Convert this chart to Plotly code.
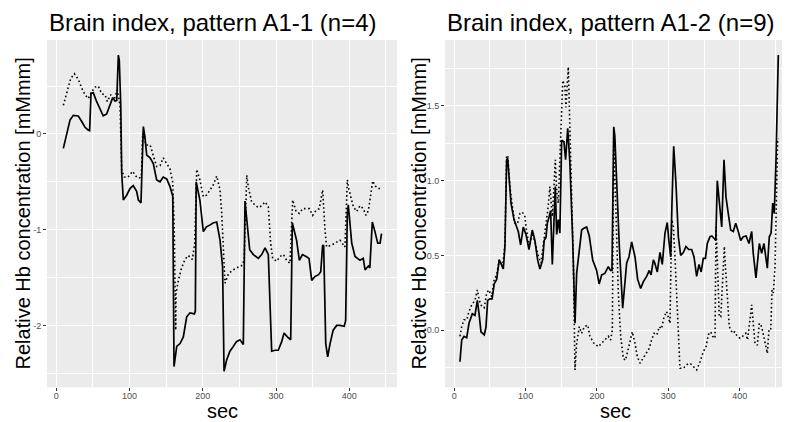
import plotly.graph_objects as go

W, H = 790, 422

# ---------------- data ----------------
left_t_solid = [9.6, 14, 18.7, 23.2, 30, 34.7, 39.2, 43, 45.5, 47.4, 50.5, 55, 59.7, 64, 68.8, 73.3, 77, 80, 82.5,
                84.7, 86, 88, 89.3, 91.5, 96, 100.6, 105, 109.7, 112, 115.6, 118.8, 121, 123.4, 128, 132.4, 137,
                141.6, 146, 150.7, 155.2, 159, 160.7, 164.4, 168.9, 173.4, 178, 182.5, 188.5, 189.8, 191, 196,
                200.7, 205, 210, 214, 219, 223.5, 227, 229, 232.6, 237, 241.6, 246, 250.8, 255.3, 257.6, 264, 269,
                275.8, 280.4, 285, 289.4, 291.7, 294, 298.6, 303, 307.7, 310.9, 315.4, 320, 322.2, 328, 331.8, 336,
                341, 345, 348.7, 353, 358, 361, 363.6, 365, 367.8, 370.5, 373.7, 378, 382.8, 387.3, 393, 395,
                397.3, 398.6, 403.3, 407.8, 414.6, 419, 421.5, 426, 428, 431.4, 435, 438.8, 442, 444]
left_solid = [-0.15, 0.0, 0.146, 0.195, 0.188, 0.13, 0.07, 0.045, 0.035, 0.425, 0.43, 0.34, 0.27, 0.19, 0.21, 0.30,
              0.38, 0.345, 0.35, 0.825, 0.77, 0.29, -0.41, -0.69, -0.64, -0.57, -0.54, -0.60, -0.69, -0.72, 0.077,
              -0.03, -0.22, -0.25, -0.31, -0.48, -0.50, -0.45, -0.47, -0.55, -0.65, -2.43, -2.22, -2.19, -2.12,
              -1.91, -1.87, -1.88, -1.85, -0.50, -0.69, -1.02, -0.97, -0.95, -0.93, -0.92, -1.11, -1.39, -2.48,
              -2.36, -2.27, -2.22, -2.17, -2.15, -2.20, -0.70, -1.21, -1.26, -1.30, -1.26, -1.19, -1.26, -1.73,
              -2.27, -2.26, -2.26, -2.17, -2.08, -2.12, -2.15, -0.93, -1.11, -1.32, -1.26, -1.28, -1.30, -1.53,
              -1.49, -1.47, -1.44, -1.16, -1.17, -2.19, -2.33, -2.19, -2.05, -2.0, -2.0, -2.01, -1.95, -0.83,
              -0.74, -1.14, -1.28, -1.32, -1.30, -1.42, -1.38, -1.40, -0.92, -1.02, -1.14, -1.14, -1.04]

left_t_dotted = [9.6, 14.2, 19.7, 24.6, 30, 34.7, 39.2, 43.7, 48.3, 52.8, 57.3, 62, 66.5, 69.6, 74.2, 78.8, 83.3,
                 87, 89.3, 92.8, 98, 104, 109.7, 113, 116, 118, 122.5, 128, 132.4, 137, 141.6, 146, 150.7, 155,
                 159, 161, 163, 163.4, 166.6, 171, 175.7, 180.2, 185.7, 189, 191.7, 196, 200.7, 205, 210, 214.4,
                 219, 223.5, 225.8, 228, 230.3, 235, 241.6, 248.5, 254.4, 256.5, 260, 262, 266.7, 271, 275.8,
                 280.4, 285, 289.4, 292.6, 295.4, 300.9, 305.4, 310, 314.5, 319, 322.7, 327.3, 331.8, 336.4, 341,
                 345.5, 350, 354.5, 359, 363.6, 366.8, 369, 376, 382.8, 387.3, 394, 397.3, 399.5, 405.5, 410,
                 414.6, 419, 422.8, 426, 428.3, 432, 435, 439.6, 444]
left_dotted = [0.30, 0.44, 0.58, 0.63, 0.57, 0.48, 0.41, 0.37, 0.44, 0.49, 0.50, 0.42, 0.41, 0.34, 0.41, 0.355,
               0.46, 0.30, -0.38, -0.45, -0.45, -0.39, -0.45, -0.46, -0.45, 0.007, -0.115, -0.115, -0.22, -0.34,
               -0.33, -0.25, -0.31, -0.36, -0.51, -1.0, -2.05, -1.67, -1.53, -1.40, -1.31, -1.27, -1.31, -1.14,
               -0.37, -0.48, -0.655, -0.64, -0.585, -0.53, -0.44, -0.585, -0.83, -1.25, -1.56, -1.46, -1.42,
               -1.39, -1.37, -1.30, -0.43, -0.55, -0.71, -0.74, -0.77, -0.75, -0.71, -0.76, -1.14, -1.30, -1.33,
               -1.28, -1.26, -1.32, -1.35, -0.69, -0.81, -0.83, -0.78, -0.78, -0.78, -0.85, -0.80, -0.78, -0.585,
               -1.0, -1.18, -1.16, -1.125, -1.11, -1.18, -0.48, -0.58, -0.76, -0.81, -0.75, -0.78, -0.85, -0.80,
               -0.69, -0.49, -0.54, -0.57, -0.57]

right_t_solid = [8, 10.4, 13.6, 17.4, 20.6, 25.3, 29, 32.3, 35, 37.4, 42, 44.4, 46.8, 50, 53, 56, 59.4, 63, 66,
                 68.7, 71, 73.4, 74.8, 77, 79.5, 83.7, 87.4, 89.7, 93, 96.7, 100.5, 104.7, 109.3, 113, 116.8, 120,
                 123.9, 126, 128.5, 130.4, 133, 135, 137.4, 139.7, 141.6, 143.5, 145.8, 148, 150.5, 153.7, 156,
                 159, 162, 166, 169.2, 171.5, 175.2, 178.5, 181, 185.5, 189.2, 194, 199.5, 203, 206.6, 211,
                 215.9, 219, 221, 223.5, 225, 227.6, 231.3, 236, 241.6, 244.8, 248.6, 253.3, 257, 261.2, 265,
                 269.6, 273.3, 275.8, 279, 281, 284.5, 288.3, 291.5, 295.3, 298.5, 300.4, 303.3, 305.1, 307.5,
                 310.7, 314, 317.3, 321, 324.7, 328.5, 332.7, 336, 339.7, 343, 346, 349, 352, 354.6, 358.4, 361,
                 364, 366.5, 368.6, 371, 374.8, 378, 380.8, 384, 387.4, 391, 394.4, 398, 401.4, 405, 409, 413,
                 416.8, 419, 422.8, 427.5, 430.8, 434, 438.7, 441.5, 444, 446.3, 448.5, 450.9, 453.2, 454.1]
right_solid = [-0.21, -0.065, -0.04, -0.05, 0.047, 0.11, 0.10, 0.20, 0.10, -0.01, -0.03, 0.02, 0.20, 0.21, 0.21,
               0.31, 0.34, 0.47, 0.44, 0.41, 0.56, 1.14, 1.15, 1.0, 0.85, 0.74, 0.69, 0.66, 0.57, 0.69, 0.64,
               0.54, 0.67, 0.60, 0.47, 0.41, 0.47, 0.60, 0.62, 0.715, 0.76, 0.80, 0.44, 0.80, 0.96, 0.64, 0.74,
               0.65, 1.27, 1.26, 1.14, 1.35, 1.12, 0.60, 0.047, 0.38, 0.56, 0.67, 0.68, 0.69, 0.63, 0.47, 0.40,
               0.31, 0.37, 0.38, 0.425, 0.40, 0.40, 1.36, 1.30, 0.94, 0.56, 0.147, 0.45, 0.49, 0.59, 0.49, 0.34,
               0.28, 0.325, 0.36, 0.40, 0.37, 0.47, 0.45, 0.39, 0.52, 0.44, 0.65, 0.72, 0.615, 0.49, 0.85, 1.23,
               0.98, 0.625, 0.50, 0.52, 0.56, 0.54, 0.54, 0.49, 0.36, 0.44, 0.39, 0.48, 0.48, 0.58, 0.625, 0.63,
               0.615, 0.60, 1.0, 0.87, 0.69, 1.14, 0.89, 0.78, 0.67, 0.66, 0.715, 0.66, 0.60, 0.625, 0.63, 0.58,
               0.66, 0.515, 0.35, 0.58, 0.515, 0.58, 0.415, 0.625, 0.65, 0.85, 0.78, 1.14, 1.67, 1.84]

right_t_dotted = [8, 10.4, 13.6, 17.4, 20.6, 24.4, 29, 32.3, 35, 38.4, 42, 45.4, 48.5, 52.4, 56, 59.4, 63, 67.8,
                  71, 73.4, 75, 78, 81.3, 85, 88.5, 92, 95.3, 99, 100.5, 105, 109.7, 113.5, 118.2, 121.5, 124.7,
                  128.5, 131.7, 134, 137.4, 139.7, 141.6, 143.5, 145.8, 148, 150.5, 152, 155, 156.5, 159.8, 162,
                  164.5, 166.8, 169.2, 171.5, 175.2, 178.5, 182.2, 187, 190, 195.8, 201.8, 206.6, 211, 215.9,
                  219, 221.5, 223.5, 227.6, 229.9, 233.2, 237, 240, 243.9, 247.2, 249.5, 253.3, 256.5, 260.3,
                  264, 268.7, 273.3, 276.5, 280, 284, 287.3, 290.5, 294, 297.7, 300, 302.3, 304.7, 307, 309.3,
                  311.7, 314, 316.3, 321, 325.7, 330.4, 335, 339.7, 344.4, 349, 352.8, 356, 359.4, 362, 365.4,
                  366.8, 368.6, 371.4, 373.5, 376.2, 378.5, 380, 382.5, 385.4, 390, 393, 396.5, 400.4, 404,
                  408.4, 411, 413.5, 416.8, 419, 421.4, 424.7, 427.5, 430.8, 434, 437, 438.7, 441, 443.5, 445.3,
                  447.2, 449.5, 450.9, 453.2, 454.1]
right_dotted = [-0.04, 0.025, 0.07, 0.07, 0.125, 0.17, 0.20, 0.27, 0.20, 0.16, 0.15, 0.25, 0.27, 0.225, 0.34,
                0.37, 0.47, 0.425, 0.58, 1.17, 1.16, 0.96, 0.83, 0.715, 0.71, 0.78, 0.79, 0.76, 0.69, 0.56, 0.65,
                0.58, 0.49, 0.45, 0.57, 0.715, 0.83, 0.96, 0.76, 0.96, 1.14, 0.93, 0.85, 1.14, 1.41, 1.67, 1.63,
                1.49, 1.76, 1.36, 0.915, 0.47, -0.265, -0.087, 0.024, -0.02, 0.024, 0.035, -0.04, -0.087, -0.11,
                -0.087, -0.065, -0.04, -0.065, 0.0, 1.30, 0.69, 0.25, -0.04, -0.19, -0.20, -0.13, -0.065, -0.01,
                -0.087, -0.176, -0.22, -0.19, -0.154, -0.12, -0.065, -0.02, -0.03, 0.024, 0.01, 0.09, 0.125,
                0.08, 0.047, 0.74, 0.69, 0.49, 0.20, -0.02, -0.254, -0.254, -0.23, -0.22, -0.24, -0.265, -0.21,
                -0.143, -0.11, -0.03, -0.01, -0.04, -0.053, 0.69, 0.47, 0.09, 0.09, 0.38, 0.56, 0.425, 0.25,
                0.024, -0.02, -0.01, -0.04, -0.053, -0.04, -0.02, -0.065, 0.047, 0.17, 0.047, -0.087, -0.10,
                0.047, 0.024, -0.04, -0.11, -0.154, 0.0, 0.0, 0.27, 0.25, 0.425, 0.85, 1.28, 1.28]

titles = ["Brain index, pattern A1-1 (n=4)", "Brain index, pattern A1-2 (n=9)"]
x_label = "sec"
y_label = "Relative Hb concentration [mMmm]"
x_ticks = [0, 100, 200, 300, 400]
x_minor = [50, 150, 250, 350, 450]
left_y_ticks = [-2, -1, 0]
left_y_ticktext = ["-2", "-1", "0"]
left_y_minor = [-2.5, -1.5, -0.5, 0.5]
right_y_ticks = [0.0, 0.5, 1.0, 1.5]
right_y_ticktext = ["0.0", "0.5", "1.0", "1.5"]
right_y_minor = [-0.25, 0.25, 0.75, 1.25, 1.75]

# ---------------- layout helpers (screen-pixel geometry) ----------------
# the page body adds an 8px offset; convert screen pixels to paper fractions
OFF = 8

def px_x(p):
    return (p - OFF) / W

def px_y(p):
    return 1 - (p - OFF) / H

FONT = "Liberation Sans, Arial, sans-serif"
PANEL_BG = "#EBEBEB"

fig = go.Figure()

line_solid = dict(color="black", width=1.7)
line_dot = dict(color="black", width=1.6, dash="1.6px,2.6px")

fig.add_trace(go.Scatter(x=left_t_dotted, y=left_dotted, mode="lines", line=line_dot, xaxis="x", yaxis="y",
                         showlegend=False, hoverinfo="skip"))
fig.add_trace(go.Scatter(x=left_t_solid, y=left_solid, mode="lines", line=line_solid, xaxis="x", yaxis="y",
                         showlegend=False, hoverinfo="skip"))
fig.add_trace(go.Scatter(x=right_t_dotted, y=right_dotted, mode="lines", line=line_dot, xaxis="x2", yaxis="y2",
                         showlegend=False, hoverinfo="skip"))
fig.add_trace(go.Scatter(x=right_t_solid, y=right_solid, mode="lines", line=line_solid, xaxis="x2", yaxis="y2",
                         showlegend=False, hoverinfo="skip"))

tickfont = dict(family=FONT, size=9, color="#4D4D4D")
common_axis = dict(showline=False, zeroline=False, ticks="outside", ticklen=3, tickwidth=1,
                   tickcolor="#333333", tickfont=tickfont, gridcolor="white", gridwidth=1.1,
                   showgrid=True, fixedrange=True)
minor_style = dict(showgrid=True, gridcolor="white", gridwidth=0.5, ticks="")

y_dom = [px_y(387.3), px_y(40)]

fig.update_layout(
    width=W, height=H,
    margin=dict(l=0, r=0, t=0, b=0),
    paper_bgcolor="white",
    plot_bgcolor=PANEL_BG,
    font=dict(family=FONT),
    xaxis=dict(domain=[px_x(47), px_x(397)], range=[-12.7, 465.1], anchor="y",
               tickvals=x_ticks, ticktext=[str(v) for v in x_ticks], ticklabelstandoff=-3,
               minor=dict(tickvals=x_minor, **minor_style), **common_axis),
    yaxis=dict(domain=y_dom, range=[-2.647, 0.982], anchor="x",
               tickvals=left_y_ticks, ticktext=left_y_ticktext,
               minor=dict(tickvals=left_y_minor, **minor_style), **common_axis),
    xaxis2=dict(domain=[px_x(445), px_x(790)], range=[-13.0, 470.5], anchor="y2",
                tickvals=x_ticks, ticktext=[str(v) for v in x_ticks], ticklabelstandoff=-3,
                minor=dict(tickvals=x_minor, **minor_style), **common_axis),
    yaxis2=dict(domain=y_dom, range=[-0.381, 1.940], anchor="x2",
                tickvals=right_y_ticks, ticktext=right_y_ticktext,
                minor=dict(tickvals=right_y_minor, **minor_style), **common_axis),
)

anns = []
title_font = dict(family=FONT, size=24, color="black")
label_font = dict(family=FONT, size=20, color="black")
anns.append(dict(text=titles[0], x=px_x(47), y=px_y(23), xref="paper", yref="paper",
                 xanchor="left", yanchor="middle", showarrow=False, font=title_font))
anns.append(dict(text=titles[1], x=px_x(445), y=px_y(23), xref="paper", yref="paper",
                 xanchor="left", yanchor="middle", showarrow=False, font=title_font))
anns.append(dict(text=x_label, x=px_x(222), y=px_y(411), xref="paper", yref="paper",
                 xanchor="center", yanchor="middle", showarrow=False, font=label_font))
anns.append(dict(text=x_label, x=px_x(615), y=px_y(411), xref="paper", yref="paper",
                 xanchor="center", yanchor="middle", showarrow=False, font=label_font))
anns.append(dict(text=y_label, x=px_x(22), y=px_y(213.5), xref="paper", yref="paper", textangle=-90,
                 xanchor="center", yanchor="middle", showarrow=False, font=label_font))
anns.append(dict(text=y_label, x=px_x(418), y=px_y(213.5), xref="paper", yref="paper", textangle=-90,
                 xanchor="center", yanchor="middle", showarrow=False, font=label_font))
fig.update_layout(annotations=anns)

fig.write_html("out.html")
